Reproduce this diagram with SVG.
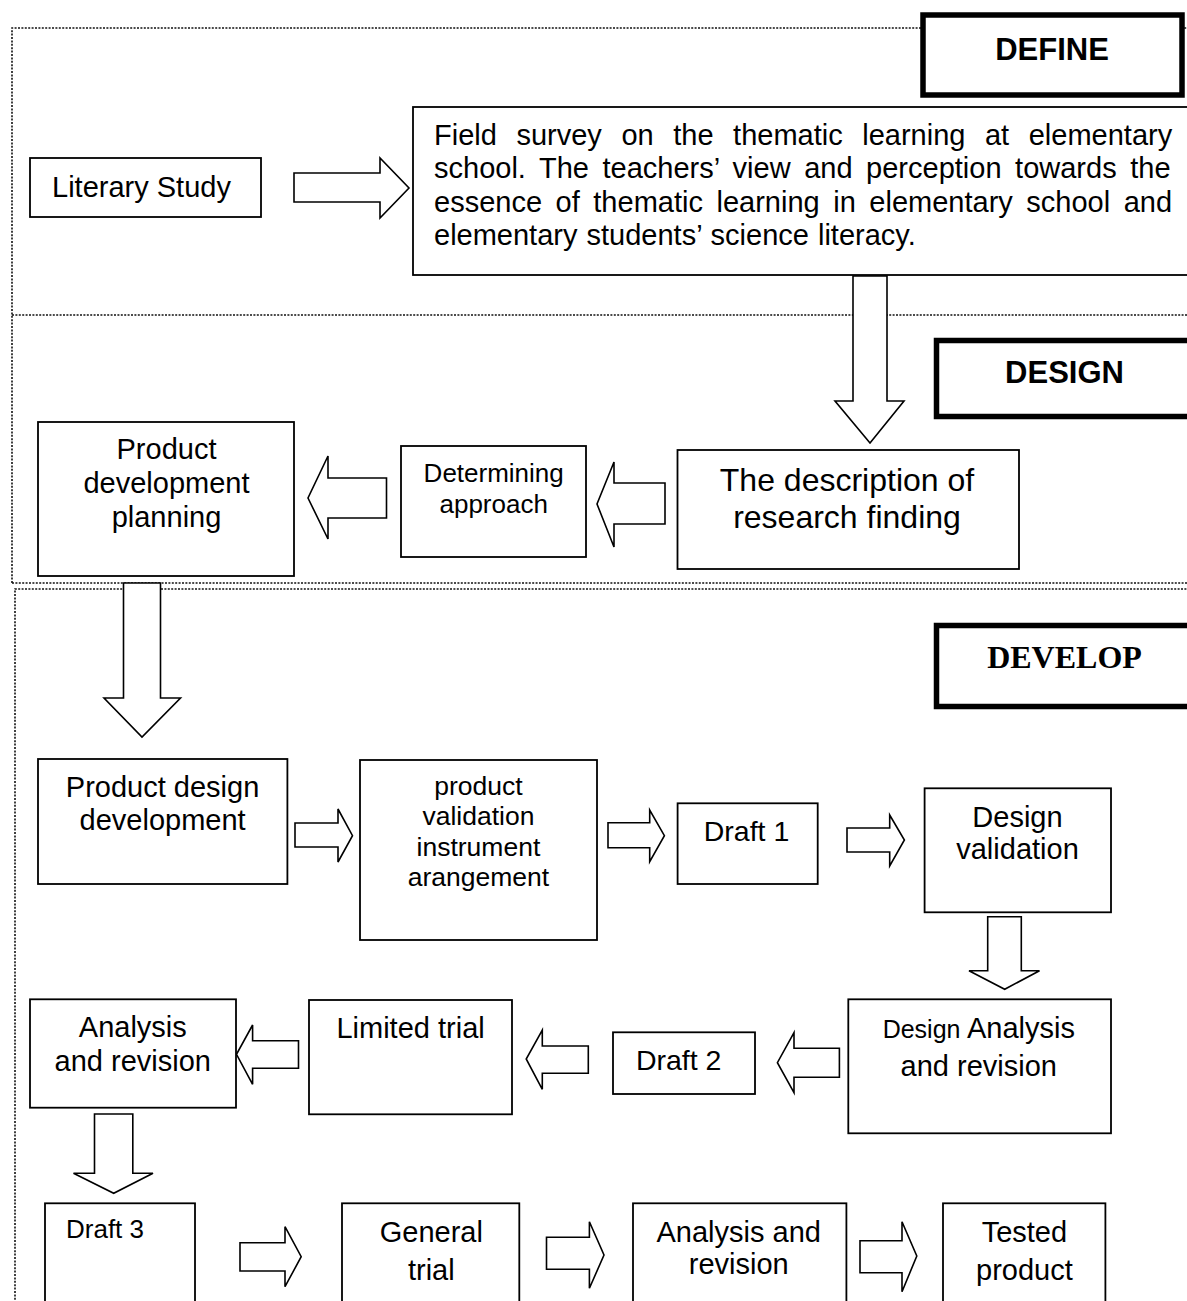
<svg xmlns="http://www.w3.org/2000/svg" width="1187" height="1301" viewBox="0 0 1187 1301">
<style>
.sec{fill:none;stroke:#111;stroke-width:1.6;stroke-dasharray:2 1.4}
.lbl{fill:#fff;stroke:#000;stroke-width:5.5}
.box{fill:#fff;stroke:#000;stroke-width:1.8}
.arr{fill:#fff;stroke:#000;stroke-width:1.6;stroke-linejoin:miter}
text{font-family:"Liberation Sans",Arial,sans-serif;fill:#000}
.t{font-size:29px;text-anchor:middle}
.s{font-size:26px;text-anchor:middle}
.h{font-size:31px;font-weight:bold;text-anchor:middle}
</style>
<rect width="1187" height="1301" fill="#fff"/>
<g id="sections">
<path class="sec" d="M12,583 V28 H1200"/>
<path class="sec" d="M12,315 H1200"/>
<path class="sec" d="M12,583 H1200"/>
<path class="sec" d="M15,1310 V589 H1200"/>
</g>
<g id="define-label"><rect class="lbl" x="923" y="15" width="259" height="80"/><text class="h" x="1052" y="60">DEFINE</text></g>
<g id="design-label"><rect class="lbl" x="936.5" y="340.5" width="270" height="76"/><text class="h" x="1064.5" y="383">DESIGN</text></g>
<g id="develop-label"><rect class="lbl" x="936.5" y="625.5" width="270" height="81"/><text x="1064.5" y="668" style="font-family:'Liberation Serif','Times New Roman',serif;font-size:32px;font-weight:bold;text-anchor:middle">DEVELOP</text></g>
<g id="connectors">
<polygon class="arr" points="294,173 380,173 380,158 409,188 380,218 380,202 294,202"/>
<polygon class="arr" points="853,276 887,276 887,401 904,401 870,443 835,401 853,401"/>
<polygon class="arr" points="665,483 614,483 614,462 597,504 614,547 614,524 665,524"/>
<polygon class="arr" points="386.5,478 328,478 328,456 308,498 328,539 328,518 386.5,518"/>
<polygon class="arr" points="123.5,583 160.5,583 160.5,698 180.5,698 142,737 104,698 123.5,698"/>
<polygon class="arr" points="295,823 338,823 338,809 352.5,835.7 338,862 338,847 295,847"/>
<polygon class="arr" points="608,822.7 649.7,822.7 649.7,810 664.4,835.7 649.7,861.7 649.7,847.7 608,847.7"/>
<polygon class="arr" points="847,828 889.7,828 889.7,815 904.4,840 889.7,866 889.7,852 847,852"/>
<polygon class="arr" points="987.7,916.7 1021.3,916.7 1021.3,970.7 1039.5,970.7 1004.7,989.3 969,970.7 987.7,970.7"/>
<polygon class="arr" points="839.4,1048.3 794,1048.3 794,1032.7 777.4,1062.7 794,1092.7 794,1077.3 839.4,1077.3"/>
<polygon class="arr" points="588.3,1046 542.3,1046 542.3,1030 526.2,1059 542.3,1089.3 542.3,1073.3 588.3,1073.3"/>
<polygon class="arr" points="298.5,1040.7 252.6,1040.7 252.6,1025 236.5,1054.3 252.6,1084.3 252.6,1068.3 298.5,1068.3"/>
<polygon class="arr" points="94.5,1114 132.8,1114 132.8,1173.3 153,1173.3 113.7,1193.3 73.5,1173.3 94.5,1173.3"/>
<polygon class="arr" points="240,1242.7 285,1242.7 285,1226.7 301.2,1256.7 285,1286.7 285,1271 240,1271"/>
<polygon class="arr" points="546.5,1237.3 589.4,1237.3 589.4,1221.7 604,1255 589.4,1288.3 589.4,1269.3 546.5,1269.3"/>
<polygon class="arr" points="860,1240.7 902,1240.7 902,1221.7 916.8,1256 902,1291.7 902,1272.7 860,1272.7"/>
</g>
<g id="literary-study"><rect class="box" x="30" y="158" width="231" height="59"/><text x="52" y="197" style="font-size:29px">Literary Study</text></g>
<g id="field-survey"><rect class="box" x="413" y="107" width="790" height="168"/>
<text x="434" y="145" style="font-size:29px;word-spacing:11.5px">Field survey on the thematic learning at elementary</text>
<text x="434" y="178" style="font-size:29px;word-spacing:5.5px">school. The teachers’ view and perception towards the</text>
<text x="434" y="212" style="font-size:29px;word-spacing:5.5px">essence of thematic learning in elementary school and</text>
<text x="434" y="245" style="font-size:29px;word-spacing:1px">elementary students’ science literacy.</text>
</g>
<g id="description"><rect class="box" x="677.5" y="450" width="341.5" height="119"/><text x="847" y="491" style="font-size:32px;text-anchor:middle">The description of</text><text x="847" y="528" style="font-size:32px;text-anchor:middle">research finding</text></g>
<g id="determining"><rect class="box" x="401" y="446" width="185" height="111"/><text class="s" x="493.7" y="482">Determining</text><text class="s" x="493.7" y="513">approach</text></g>
<g id="planning"><rect class="box" x="38" y="422" width="256" height="154"/><text class="t" x="166.5" y="459">Product</text><text class="t" x="166.5" y="493">development</text><text class="t" x="166.5" y="527">planning</text></g>
<g id="design-development"><rect class="box" x="38" y="759" width="249.4" height="125"/><text class="t" x="162.6" y="797">Product design</text><text class="t" x="162.6" y="830">development</text></g>
<g id="validation-instrument"><rect class="box" x="360" y="760" width="237" height="180"/><text x="478.4" y="795" style="font-size:26.5px;text-anchor:middle">product</text><text x="478.4" y="825" style="font-size:26.5px;text-anchor:middle">validation</text><text x="478.4" y="856" style="font-size:26.5px;text-anchor:middle">instrument</text><text x="478.4" y="886" style="font-size:26.5px;text-anchor:middle">arangement</text></g>
<g id="draft1"><rect class="box" x="677.6" y="803.3" width="140.1" height="80.7"/><text x="746.5" y="841" style="font-size:28.5px;text-anchor:middle">Draft 1</text></g>
<g id="design-validation"><rect class="box" x="924.6" y="788.3" width="186.4" height="124"/><text class="t" x="1017.5" y="827">Design</text><text class="t" x="1017.5" y="859">validation</text></g>
<g id="design-analysis"><rect class="box" x="848.3" y="999.3" width="262.7" height="134"/><text class="t" x="978.8" y="1038"><tspan style="font-size:25px">Design</tspan> Analysis</text><text class="t" x="978.8" y="1076">and revision</text></g>
<g id="draft2"><rect class="box" x="613" y="1032.3" width="142" height="61.7"/><text x="678.7" y="1070" style="font-size:28.5px;text-anchor:middle">Draft 2</text></g>
<g id="limited-trial"><rect class="box" x="309" y="1000" width="203" height="114.3"/><text class="t" x="410.6" y="1038">Limited trial</text></g>
<g id="analysis-revision-1"><rect class="box" x="30" y="999.3" width="206" height="108.4"/><text class="t" x="132.8" y="1037">Analysis</text><text class="t" x="132.8" y="1071">and revision</text></g>
<g id="draft3"><rect class="box" x="45" y="1203.3" width="150" height="110"/><text x="66" y="1238" style="font-size:26px">Draft 3</text></g>
<g id="general-trial"><rect class="box" x="342" y="1203.3" width="177.3" height="110"/><text class="t" x="431.3" y="1242">General</text><text class="t" x="431.3" y="1280">trial</text></g>
<g id="analysis-revision-2"><rect class="box" x="633" y="1203.3" width="213.4" height="110"/><text class="t" x="738.7" y="1242">Analysis and</text><text class="t" x="738.7" y="1274">revision</text></g>
<g id="tested-product"><rect class="box" x="943" y="1203.3" width="162.4" height="110"/><text class="t" x="1024.4" y="1242">Tested</text><text class="t" x="1024.4" y="1280">product</text></g>
</svg>
